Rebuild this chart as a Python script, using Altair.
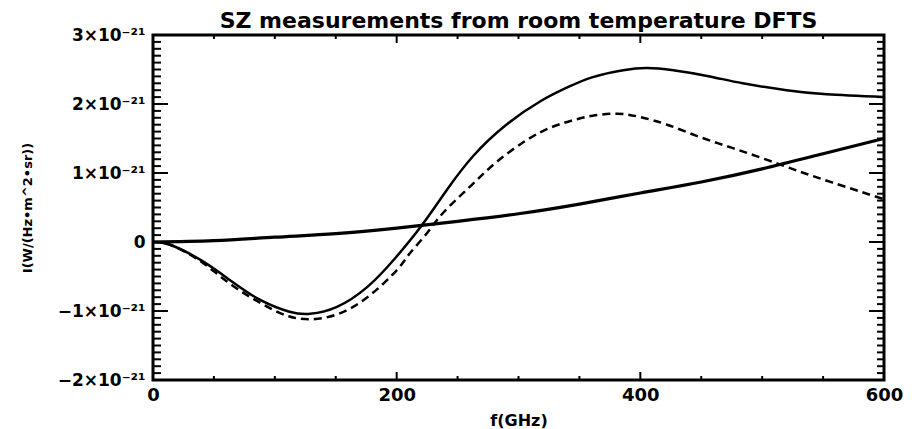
import altair as alt
import pandas as pd

# Spectra in units of 1e-21 W/(Hz m^2 sr), frequency in GHz
solid_f = [0, 14, 39, 63, 88, 112, 129, 151, 176, 198, 221, 241, 263, 290, 318,
           340, 361, 386, 405, 427, 457, 484, 520, 553, 600]
solid_v = [0, -0.04, -0.26, -0.55, -0.84, -1.01, -1.04, -0.94, -0.65, -0.25, 0.25,
           0.75, 1.25, 1.70, 2.04, 2.24, 2.39, 2.49, 2.52, 2.49, 2.40, 2.30, 2.20,
           2.14, 2.10]

dashed_f = [0, 14, 39, 66, 94, 112, 129, 151, 176, 200, 211, 225, 238, 260, 282,
            307, 328, 348, 361, 381, 400, 422, 449, 476, 504, 531, 558, 600]
dashed_v = [0, -0.04, -0.28, -0.64, -0.94, -1.08, -1.12, -1.05, -0.80, -0.41,
            -0.16, 0.13, 0.42, 0.80, 1.16, 1.48, 1.67, 1.78, 1.83, 1.86, 1.81,
            1.70, 1.52, 1.36, 1.19, 1.02, 0.86, 0.62]

rise_f = [0, 50, 100, 150, 200, 250, 300, 350, 400, 450, 500, 550, 600]
rise_v = [0, 0.02, 0.07, 0.12, 0.20, 0.30, 0.41, 0.55, 0.71, 0.87, 1.06, 1.28, 1.50]

# Axis ticks
x_major = [200, 400]
x_minor = [50, 100, 150, 250, 300, 350, 450, 500, 550]
x_labels = [0, 200, 400, 600]
y_labels = [-2, -1, 0, 1, 2, 3]
y_minor = [round(-2 + 0.1 * i, 1) for i in range(51)]

W, H = 731, 345
FONT = "DejaVu Sans"

x_scale = alt.Scale(domain=[0, 600], nice=False, zero=False)
y_scale = alt.Scale(domain=[-2, 3], nice=False, zero=False)

x_axis = alt.Axis(values=x_labels, ticks=False, domain=False, grid=False,
                  labelFont=FONT, labelFontSize=18, labelFontWeight="bold",
                  labelColor="#000", labelPadding=6, labelFlush=False,
                  labelOverlap=False,
                  title="f(GHz)", titleFont=FONT, titleFontSize=16,
                  titleFontWeight="bold", titleColor="#000",
                  titleY=40, titleBaseline="middle")
y_axis = alt.Axis(values=y_labels, ticks=False, domain=False, grid=False,
                  labelFont=FONT, labelFontSize=17, labelFontWeight="bold",
                  labelColor="#000", labelPadding=8, labelFlush=False,
                  labelOverlap=False,
                  labelExpr="datum.value === 0 ? '0' : format(datum.value, 'd') + '×10⁻²¹'",
                  title="I(W/(Hz•m^2•sr))", titleFont=FONT, titleFontSize=13,
                  titleFontWeight="bold", titleColor="#000",
                  titleX=-126, titleY=H / 2, titleAngle=270,
                  titleAlign="center", titleBaseline="middle")

X = alt.X("f:Q", scale=x_scale, axis=x_axis)
Y = alt.Y("v:Q", scale=y_scale, axis=y_axis)


def frame(f, v):
    return pd.DataFrame({"f": f, "v": v})


line = dict(color="#000", interpolate="natural")
solid = alt.Chart(frame(solid_f, solid_v)).mark_line(strokeWidth=2.5, **line).encode(x=X, y=Y)
dashed = alt.Chart(frame(dashed_f, dashed_v)).mark_line(
    strokeWidth=2.5, strokeDash=[8, 5], **line).encode(x=X, y=Y)
rise = alt.Chart(frame(rise_f, rise_v)).mark_line(strokeWidth=3.2, **line).encode(x=X, y=Y)

# Inward-pointing ticks on all four sides of the frame
tick = dict(color="#000", strokeWidth=2)
xmin_df = pd.DataFrame({"f": x_minor})
xmaj_df = pd.DataFrame({"f": x_major})
ymin_df = pd.DataFrame({"v": y_minor})
ymaj_df = pd.DataFrame({"v": y_labels})
ticks = [
    alt.Chart(xmin_df).mark_rule(**tick).encode(x=X, y=alt.value(0), y2=alt.value(4)),
    alt.Chart(xmin_df).mark_rule(**tick).encode(x=X, y=alt.value(H - 4), y2=alt.value(H)),
    alt.Chart(xmaj_df).mark_rule(**tick).encode(x=X, y=alt.value(0), y2=alt.value(8)),
    alt.Chart(xmaj_df).mark_rule(**tick).encode(x=X, y=alt.value(H - 8), y2=alt.value(H)),
    alt.Chart(ymin_df).mark_rule(**tick).encode(y=Y, x=alt.value(0), x2=alt.value(8)),
    alt.Chart(ymin_df).mark_rule(**tick).encode(y=Y, x=alt.value(W - 7), x2=alt.value(W)),
    alt.Chart(ymaj_df).mark_rule(**tick).encode(y=Y, x=alt.value(0), x2=alt.value(15)),
    alt.Chart(ymaj_df).mark_rule(**tick).encode(y=Y, x=alt.value(W - 15), x2=alt.value(W)),
]

chart = alt.layer(rise, solid, dashed, *ticks).properties(
    width=W, height=H,
    title=alt.TitleParams("SZ measurements from room temperature DFTS",
                          font=FONT, fontSize=22, fontWeight="bold", color="#000",
                          anchor="middle", frame="group", offset=4, dy=11),
    autosize=alt.AutoSizeParams(type="none"),
    padding={"left": 153, "top": 35, "right": 36, "bottom": 49},
    background="#ffffff",
).configure_view(stroke="#000", strokeWidth=3)

chart.save("out.html", embed_options={"renderer": "svg", "actions": False})
